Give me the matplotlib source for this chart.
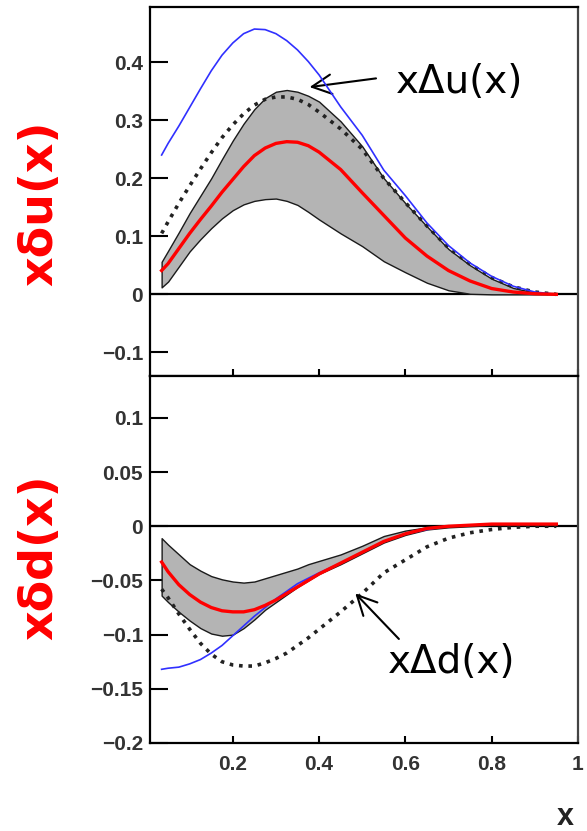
import matplotlib.pyplot as plt
import numpy as np

# sample points
x = [0.035, 0.05, 0.075, 0.1, 0.125, 0.15, 0.175, 0.2, 0.225, 0.25,
     0.275, 0.3, 0.325, 0.35, 0.375, 0.4, 0.45, 0.5, 0.55, 0.6,
     0.65, 0.7, 0.75, 0.8, 0.85, 0.9, 0.95]

# top panel: x*delta_u
u_hel = [0.24, 0.26, 0.29, 0.322, 0.354, 0.385, 0.412, 0.433, 0.449, 0.457,
         0.456, 0.449, 0.437, 0.421, 0.401, 0.378, 0.323, 0.274, 0.214, 0.17,
         0.123, 0.084, 0.054, 0.031, 0.014, 0.004, 0.0]
u_soffer = [0.105, 0.125, 0.157, 0.187, 0.216, 0.244, 0.27, 0.292, 0.311, 0.326,
            0.336, 0.340, 0.34, 0.336, 0.327, 0.314, 0.285, 0.25, 0.2, 0.158,
            0.118, 0.08, 0.052, 0.029, 0.013, 0.004, 0.0]
u_up = [0.056, 0.075, 0.107, 0.14, 0.17, 0.2, 0.233, 0.265, 0.294, 0.319,
        0.338, 0.349, 0.352, 0.349, 0.342, 0.332, 0.298, 0.255, 0.2, 0.157,
        0.117, 0.078, 0.05, 0.027, 0.011, 0.003, 0.0]
u_fit = [0.041, 0.053, 0.079, 0.105, 0.129, 0.152, 0.176, 0.198, 0.22, 0.239,
         0.252, 0.26, 0.263, 0.262, 0.256, 0.245, 0.215, 0.175, 0.136, 0.097,
         0.066, 0.041, 0.023, 0.01, 0.004, 0.001, 0.0]
u_low = [0.012, 0.022, 0.048, 0.074, 0.095, 0.114, 0.131, 0.145, 0.155, 0.161,
         0.164, 0.165, 0.161, 0.154, 0.142, 0.129, 0.105, 0.083, 0.057, 0.038,
         0.02, 0.007, 0.001, 0.0, 0.0, 0.0, 0.0]

# bottom panel: x*delta_d
d_hel = [-0.132, -0.131, -0.13, -0.127, -0.123, -0.117, -0.11, -0.101, -0.092, -0.083,
         -0.075, -0.067, -0.06, -0.053, -0.048, -0.043, -0.034, -0.024, -0.014, -0.007,
         -0.003, 0.0, 0.001, 0.002, 0.002, 0.002, 0.002]
d_soffer = [-0.058, -0.066, -0.081, -0.095, -0.108, -0.118, -0.125, -0.128, -0.129, -0.129,
            -0.126, -0.122, -0.117, -0.11, -0.103, -0.095, -0.079, -0.062, -0.043, -0.031,
            -0.019, -0.011, -0.006, -0.003, -0.001, 0.0, 0.0]
d_up = [-0.011, -0.017, -0.026, -0.035, -0.041, -0.046, -0.049, -0.051, -0.052, -0.051,
        -0.048, -0.045, -0.042, -0.039, -0.035, -0.032, -0.026, -0.018, -0.009, -0.004,
        -0.001, 0.0, 0.001, 0.002, 0.002, 0.002, 0.002]
d_fit = [-0.033, -0.042, -0.054, -0.063, -0.07, -0.075, -0.078, -0.079, -0.079, -0.077,
         -0.073, -0.068, -0.062, -0.056, -0.05, -0.044, -0.034, -0.024, -0.014, -0.007,
         -0.002, 0.0, 0.001, 0.002, 0.002, 0.002, 0.002]
d_low = [-0.064, -0.07, -0.079, -0.087, -0.094, -0.099, -0.101, -0.1, -0.094, -0.086,
         -0.077, -0.07, -0.063, -0.056, -0.05, -0.044, -0.035, -0.025, -0.015, -0.008,
         -0.003, -0.001, 0.0, 0.001, 0.001, 0.002, 0.002]

top_yticks = [0.4, 0.3, 0.2, 0.1, 0, -0.1]
top_ylabels = ['0.4', '0.3', '0.2', '0.1', '0', '\u22120.1']
bot_yticks = [0.1, 0.05, 0, -0.05, -0.1, -0.15, -0.2]
bot_ylabels = ['0.1', '0.05', '0', '\u22120.05', '\u22120.1', '\u22120.15', '\u22120.2']
xticks = [0.2, 0.4, 0.6, 0.8, 1.0]
xlabels = ['0.2', '0.4', '0.6', '0.8', '1']

fig = plt.figure(figsize=(5.87, 8.31), dpi=100)
left, width = 0.2555, 0.729
ax1 = fig.add_axes([left, 0.548, width, 0.4436])
ax2 = fig.add_axes([left, 0.1059, width, 0.4421])

tick_font = dict(family='Liberation Sans', weight='bold', size=15)


def draw(ax, lo, up, fit, hel, sof):
    ax.fill_between(x, lo, up, facecolor='#b4b4b4', edgecolor='#1a1a1a', lw=1.0, zorder=2)
    ax.axhline(0, color='black', lw=1.6, zorder=1)
    ax.plot(x, sof, color='#222222', lw=2.6, linestyle=(0, (1, 1.6)), zorder=3)
    ax.plot(x, hel, color='#3030ff', lw=1.2, zorder=4)
    ax.plot(x, fit, color='#ff0000', lw=2.4, zorder=5)
    ax.set_xlim(0.008, 1.0)
    ax.set_xticks(xticks)
    ax.tick_params(axis='y', direction='in', length=13, width=1.5, colors='black',
                   labelcolor='#333333', pad=5)
    ax.tick_params(axis='x', direction='in', length=5, width=1.5, colors='black',
                   labelcolor='#333333', pad=9)
    for s in ax.spines.values():
        s.set_linewidth(1.6)
    ax.spines['right'].set_color('#444444')


draw(ax1, u_low, u_up, u_fit, u_hel, u_soffer)
draw(ax2, d_low, d_up, d_fit, d_hel, d_soffer)

ax1.set_ylim(-0.14, 0.495)
ax1.set_yticks(top_yticks)
ax1.set_yticklabels(top_ylabels, **tick_font)
ax1.set_xticklabels([])

ax2.set_ylim(-0.2, 0.139)
ax2.set_yticks(bot_yticks)
ax2.set_yticklabels(bot_ylabels, **tick_font)
ax2.set_xticklabels(xlabels, **tick_font)

arrow = dict(arrowstyle='->, head_length=0.7, head_width=0.35', color='black', lw=1.5,
             mutation_scale=20, shrinkA=0, shrinkB=0)
ax1.annotate('', xy=(0.378, 0.357), xytext=(0.532, 0.372), arrowprops=arrow)
ax1.text(0.578, 0.366, 'x\u0394u(x)', fontsize=28, va='center', ha='left')
ax2.annotate('', xy=(0.484, -0.062), xytext=(0.585, -0.104), arrowprops=arrow)
ax2.text(0.56, -0.125, 'x\u0394d(x)', fontsize=28, va='center', ha='left')

fig.text(0.068, 0.756, 'x\u03b4u(x)', color='red', fontsize=33, fontweight='bold',
         rotation=90, ha='center', va='center')
fig.text(0.068, 0.33, 'x\u03b4d(x)', color='red', fontsize=33, fontweight='bold',
         rotation=90, ha='center', va='center')
fig.text(0.963, 0.017, 'x', fontsize=22, fontweight='bold', color='#222222',
         ha='center', va='center', family='Liberation Sans')

fig.savefig('out.png', dpi=100)
